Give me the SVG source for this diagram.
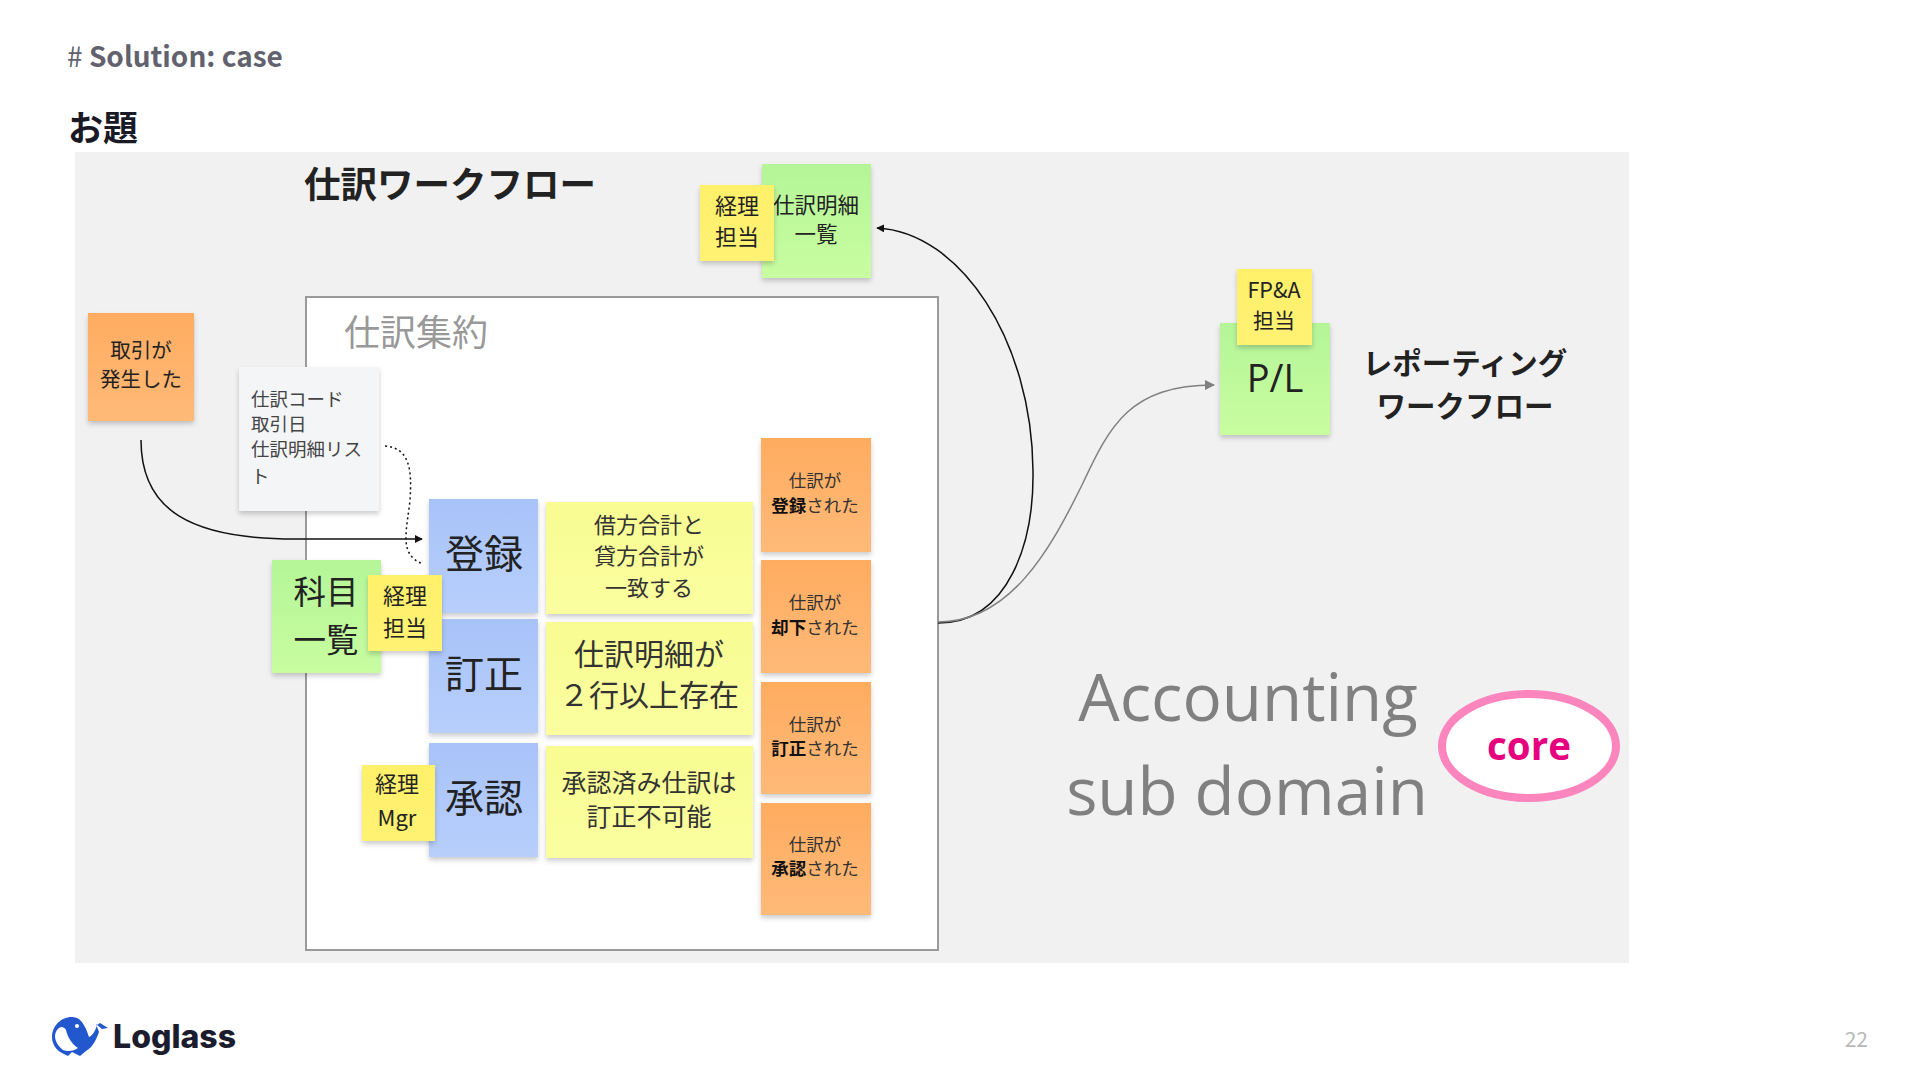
<svg xmlns="http://www.w3.org/2000/svg" width="1920" height="1080" viewBox="0 0 1920 1080">
<style>
text{font-family:"Noto Sans CJK JP","Noto Sans",sans-serif;text-anchor:middle;fill:#333}
.os{font-family:"Open Sans","Noto Sans",sans-serif}
.s{filter:url(#sh)}
.o{fill:url(#go)}.b{fill:url(#gb)}.y{fill:url(#gy)}.g{fill:url(#gg)}.l{fill:url(#gl)}
.t17{font-size:17.5px}.t22{font-size:22px}
.k{fill:#222}
.c{fill:none;stroke:#111;stroke-width:1.5}
</style>
<defs>
<filter id="sh" x="-15%" y="-15%" width="130%" height="130%"><feDropShadow dx="0" dy="3" stdDeviation="2.5" flood-color="#000" flood-opacity="0.2"/></filter>
<linearGradient id="go" x1="0" y1="0" x2="0" y2="1"><stop offset="0" stop-color="#FFAC60"/><stop offset="1" stop-color="#FFBA78"/></linearGradient>
<linearGradient id="gb" x1="0" y1="0" x2="0" y2="1"><stop offset="0" stop-color="#A8C3F8"/><stop offset="1" stop-color="#B8CFFC"/></linearGradient>
<linearGradient id="gy" x1="0" y1="0" x2="0" y2="1"><stop offset="0" stop-color="#F8FC92"/><stop offset="1" stop-color="#FBFE9F"/></linearGradient>
<linearGradient id="gg" x1="0" y1="0" x2="0" y2="1"><stop offset="0" stop-color="#B4F598"/><stop offset="1" stop-color="#C8FDA0"/></linearGradient>
<linearGradient id="gl" x1="0" y1="0" x2="0" y2="1"><stop offset="0" stop-color="#FFF06A"/><stop offset="1" stop-color="#FFF274"/></linearGradient>
<marker id="ab" viewBox="0 0 10 10" refX="9" refY="5" markerWidth="8" markerHeight="8" markerUnits="userSpaceOnUse" orient="auto"><path d="M0 0L10 5L0 10z" fill="#111"/></marker>
<marker id="ag" viewBox="0 0 10 10" refX="9" refY="5" markerWidth="11" markerHeight="10" markerUnits="userSpaceOnUse" orient="auto"><path d="M0 0L10 5L0 10z" fill="#808080"/></marker>
</defs>
<rect width="1920" height="1080" fill="#fff"/>
<text x="67" y="67" style="text-anchor:start;font-size:28px;font-weight:700;fill:#62626e"><tspan font-weight="400">#</tspan> Solution: case</text>
<text x="68" y="141" style="text-anchor:start;font-size:35px;font-weight:700;fill:#1a1a26">お題</text>
<rect id="panel" x="75" y="152" width="1554" height="811" fill="#f1f1f1"/>
<text x="450" y="198" style="font-size:36.5px;font-weight:700;fill:#222">仕訳ワークフロー</text>
<g id="aggregate"><rect x="306" y="297" width="632" height="653" fill="#fff" stroke="#9a9a9a" stroke-width="2"/><text x="416" y="346" style="font-size:36px;fill:#999">仕訳集約</text></g>

<g id="n-torihiki"><rect class="o s" x="88" y="313" width="106" height="108"/><text class="k" style="font-size:20.5px" x="141" y="358">取引が</text><text class="k" style="font-size:20.5px" x="141" y="387">発生した</text></g>
<g id="n-fields"><rect class="s" fill="#f4f5f7" x="239" y="367" width="140" height="144"/>
<g style="font-size:18.5px"><text x="251" y="406" style="text-anchor:start;fill:#444">仕訳コード</text><text x="251" y="431" style="text-anchor:start;fill:#444">取引日</text><text x="251" y="456" style="text-anchor:start;fill:#444">仕訳明細リス</text><text x="251" y="483" style="text-anchor:start;fill:#444">ト</text></g></g>
<g id="n-meisai"><rect class="g s" x="762" y="164" width="109" height="114"/><text class="k" style="font-size:21.5px" x="816" y="213">仕訳明細</text><text class="k" style="font-size:21.5px" x="816" y="242">一覧</text></g>
<g id="n-tanto1"><rect class="l s" x="700" y="185" width="74" height="76"/><text class="t22 k" x="737" y="214">経理</text><text class="t22 k" x="737" y="245">担当</text></g>

<g id="n-touroku"><rect class="b s" x="429" y="499" width="109" height="114"/><text class="k" style="font-size:39px" x="484" y="568">登録</text></g>
<g id="n-teisei"><rect class="b s" x="429" y="619" width="109" height="114"/><text class="k" style="font-size:39px" x="484" y="688">訂正</text></g>
<g id="n-shounin"><rect class="b s" x="429" y="743" width="109" height="114"/><text class="k" style="font-size:39px" x="484" y="812">承認</text></g>

<g id="n-rule1"><rect class="y s" x="546" y="502" width="207" height="112"/><text class="t22" x="649" y="533">借方合計と</text><text class="t22" x="649" y="564">貸方合計が</text><text class="t22" x="649" y="596">一致する</text></g>
<g id="n-rule2"><rect class="y s" x="546" y="622" width="207" height="113"/><text style="font-size:30px" x="649" y="665">仕訳明細が</text><text style="font-size:30px" x="649" y="706">２行以上存在</text></g>
<g id="n-rule3"><rect class="y s" x="546" y="746" width="207" height="112"/><text style="font-size:25px" x="649" y="792">承認済み仕訳は</text><text style="font-size:25px" x="649" y="826">訂正不可能</text></g>

<g id="n-ev1"><rect class="o s" x="761" y="438" width="110" height="114"/><text class="t17" x="815" y="487">仕訳が</text><text class="t17" x="815" y="512"><tspan font-weight="700" fill="#111">登録</tspan>された</text></g>
<g id="n-ev2"><rect class="o s" x="761" y="560" width="110" height="113"/><text class="t17" x="815" y="609">仕訳が</text><text class="t17" x="815" y="634"><tspan font-weight="700" fill="#111">却下</tspan>された</text></g>
<g id="n-ev3"><rect class="o s" x="761" y="682" width="110" height="112"/><text class="t17" x="815" y="731">仕訳が</text><text class="t17" x="815" y="755"><tspan font-weight="700" fill="#111">訂正</tspan>された</text></g>
<g id="n-ev4"><rect class="o s" x="761" y="803" width="110" height="112"/><text class="t17" x="815" y="851">仕訳が</text><text class="t17" x="815" y="875"><tspan font-weight="700" fill="#111">承認</tspan>された</text></g>

<g id="n-kamoku"><rect class="g s" x="272" y="560" width="109" height="113"/><text class="k" style="font-size:32.5px" x="326" y="604">科目</text><text class="k" style="font-size:32.5px" x="326" y="652">一覧</text></g>
<g id="n-tanto2"><rect class="l s" x="368" y="575" width="74" height="76"/><text class="t22 k" x="405" y="604">経理</text><text class="t22 k" x="405" y="636">担当</text></g>
<g id="n-mgr"><rect class="l s" x="362" y="765" width="73" height="76"/><text class="t22 k" x="397" y="792">経理</text><text class="t22 k" x="397" y="826">Mgr</text></g>

<g id="n-pl"><rect class="g s" x="1220" y="323" width="110" height="112"/><text class="os k" style="font-size:38px" x="1275" y="392">P/L</text></g>
<g id="n-fpa"><rect class="l s" x="1237" y="269" width="75" height="76"/><text class="k" style="font-size:21.5px" x="1274" y="298">FP&amp;A</text><text class="k" style="font-size:21px" x="1274" y="328">担当</text></g>

<g style="font-size:29.5px;font-weight:700"><text x="1465" y="374" style="fill:#222">レポーティング</text><text x="1465" y="417" style="fill:#222">ワークフロー</text></g>
<text class="os" x="1248" y="721" style="font-size:65.5px;fill:#808080">Accounting</text>
<text class="os" x="1247" y="815" style="font-size:65.5px;fill:#808080">sub domain</text>
<g id="n-core"><ellipse cx="1529" cy="746" rx="87" ry="52" fill="#fff" stroke="#FC85BE" stroke-width="8"/><text class="os" x="1529" y="760" style="font-size:38.5px;font-weight:700;fill:#E6007E">core</text></g>

<g id="connectors">
<path class="c" d="M141 440C141 510 190 540 300 539L422 539" marker-end="url(#ab)" stroke-width="2"/>
<path class="c" d="M385 446C410 448 412 470 410 500C407 530 398 555 423 564" stroke-dasharray="2 3"/>
<path class="c" d="M938 623C1010 623 1034 540 1033 471C1032 340 960 232 877 228" marker-end="url(#ab)"/>
<path class="c" style="stroke:#808080" d="M938 622C1010 622 1050 550 1082 485C1110 425 1130 385 1214 385" marker-end="url(#ag)"/>
</g>

<g id="logo">
<path fill="#2257CE" d="M72 1017C60 1017 52 1027 52 1037C52 1044 56 1050 62 1053L68 1056L72 1052L80 1056L86 1051C93 1047 96 1040 99 1032L96 1024L102 1029L108 1028L100 1023L97 1025C95 1032 92 1036 89 1037C86 1028 82 1017 72 1017Z"/>
<path fill="#fff" d="M55 1036C56 1028 62 1024 66 1030C68 1038 72 1044 78 1048C74 1051 68 1052 63 1050C58 1046 55 1041 55 1036Z"/>
<circle cx="77" cy="1026" r="2" fill="#fff"/>
</g>
<text x="174.500" y="1048" style="font-family:Inter,Lato,sans-serif;font-size:32px;font-weight:800;fill:#1b1d2e">Loglass</text>
<text x="1868" y="1047" style="text-anchor:end;font-size:21px;fill:#b8b8b8">22</text>
</svg>
